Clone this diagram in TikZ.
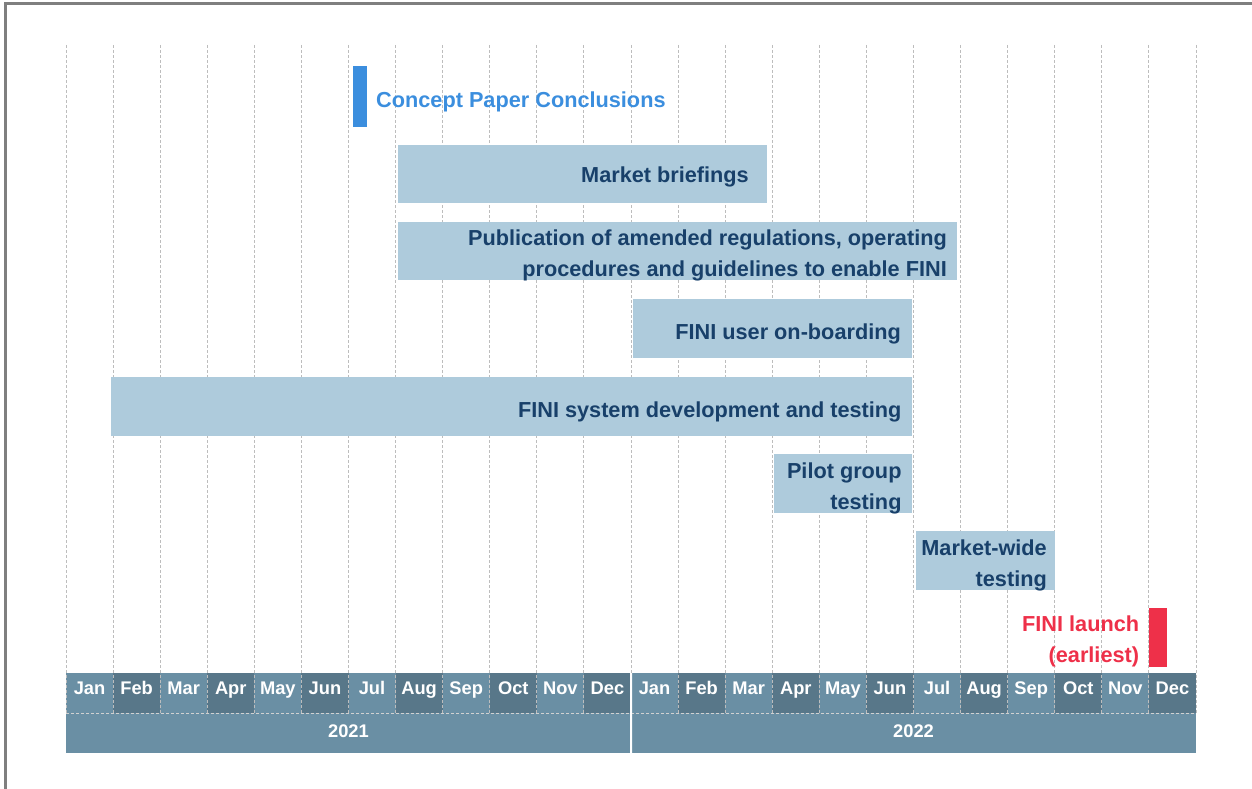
\documentclass[tikz,border=0pt]{standalone}
\usepackage{fontspec}
\setmainfont{Liberation Sans}
\definecolor{barfill}{HTML}{AECBDC}
\definecolor{navytext}{HTML}{18406A}
\definecolor{conceptblue}{HTML}{3B8EDE}
\definecolor{launchred}{HTML}{EE3049}
\definecolor{monthlight}{HTML}{6A8FA4}
\definecolor{monthdark}{HTML}{587789}
\definecolor{yearfill}{HTML}{6A8FA4}
\definecolor{gridgray}{HTML}{BDBDBD}
\definecolor{framegray}{HTML}{7F7F7F}
\begin{document}
\begin{tikzpicture}[x=1pt,y=-1pt,
  barbox/.style={fill=barfill, draw=none, inner sep=0, outer sep=0, anchor=north west},
  markerbox/.style={draw=none, inner sep=0, outer sep=0, anchor=north west},
  barlabel/.style={font=\bfseries\fontsize{21.7}{31}\selectfont, text=navytext, align=right, inner sep=0, anchor=north east},
  cellbox/.style={draw=none, inner sep=0, outer sep=0, anchor=north west, minimum width=47.083pt, minimum height=40pt,
     text=white, font=\bfseries\fontsize{18.3}{20}\selectfont, text height=13.1pt, text depth=10.1pt},
  yearbox/.style={fill=yearfill, draw=none, inner sep=0, outer sep=0, anchor=north west, minimum width=565pt, minimum height=40pt,
     text=white, font=\bfseries\fontsize{18.3}{20}\selectfont, text height=13.1pt, text depth=4.3pt},
  gridline/.style={draw=gridgray, line width=0.9pt, dash pattern=on 3pt off 2pt},
  celldash/.style={draw=gridgray!70!white, line width=0.9pt, dash pattern=on 3pt off 2pt}
]
\useasboundingbox (0,0) rectangle (1252,789);
% frame
\draw[framegray, line width=2.2pt] (5.5,789) -- (5.5,3.5) -- (1252,3.5);

% month cells
\foreach \m [count=\i from 0] in {Jan,Feb,Mar,Apr,May,Jun,Jul,Aug,Sep,Oct,Nov,Dec,Jan,Feb,Mar,Apr,May,Jun,Jul,Aug,Sep,Oct,Nov,Dec}{
  \pgfmathtruncatemacro\c{mod(\i,2)}
  \ifnum\c=0 \def\cc{monthlight}\else\def\cc{monthdark}\fi
  \node[cellbox, fill=\cc] (m\i) at ({66+47.083*\i},673) {\m};
}
% year cells
\node[yearbox] (y21) at (66,713) {2021};
\node[yearbox] (y22) at (631,713) {2022};

% vertical grid lines
\foreach \k in {0,...,24}{
  \draw[gridline] ({66+47.083*\k},45) -- ({66+47.083*\k},713);
}
\draw[celldash] (m0.south west) -- (m23.south east);
\draw[white, line width=2pt] (m12.north west) -- (y22.south west);

% concept paper marker
\node[markerbox, fill=conceptblue, minimum width=13.5pt, minimum height=61pt] (concept) at (353,66) {};
\node[font=\bfseries\fontsize{21.7}{31}\selectfont, text=conceptblue, inner sep=0, anchor=north west] (conceptlbl) at (376,91.5) {Concept Paper Conclusions};

% bars
\node[barbox, minimum width=369pt, minimum height=58pt] (briefings) at (398,145) {};
\node[barlabel] (briefingslbl) at (749,166.5) {Market briefings};

\node[barbox, minimum width=559pt, minimum height=58pt] (publication) at (398,222) {};
\node[barlabel] (publicationlbl) at (947,230) {Publication of amended regulations, operating\\procedures and guidelines to enable FINI};

\node[barbox, minimum width=279pt, minimum height=59pt] (onboarding) at (633,299) {};
\node[barlabel] (onboardinglbl) at (901,323.8) {FINI user on-boarding};

\node[barbox, minimum width=801pt, minimum height=59pt] (system) at (111,376.5) {};
\node[barlabel] (systemlbl) at (901.7,401.2) {FINI system development and testing};

\node[barbox, minimum width=138pt, minimum height=59.5pt] (pilot) at (774,453.5) {};
\node[barlabel] (pilotlbl) at (901.7,462.8) {Pilot group\\testing};

\node[barbox, minimum width=139.5pt, minimum height=59pt] (marketwide) at (915.5,531) {};
\node[barlabel] (marketwidelbl) at (1047,539.5) {Market-wide\\testing};

% launch marker
\node[markerbox, fill=launchred, minimum width=18pt, minimum height=59.5pt] (launch) at (1149.3,607.8) {};
\node[barlabel, text=launchred] (launchlbl) at (1139.3,615.5) {FINI launch\\(earliest)};
\end{tikzpicture}
\end{document}
